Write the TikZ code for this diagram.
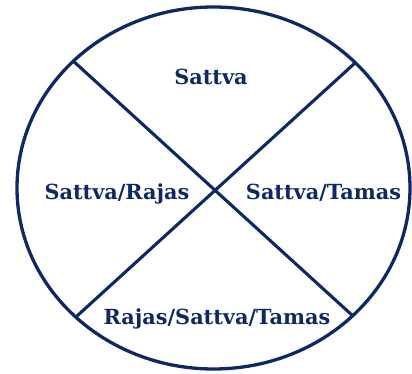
\documentclass[tikz,border=0pt]{standalone}
\usepackage{fontspec}
\setmainfont{DejaVu Serif}
\usetikzlibrary{calc}
\definecolor{gunanavy}{RGB}{14,40,100}

\begin{document}
\begin{tikzpicture}[x=1pt,y=1pt,
  guna/.style={anchor=base,text=gunanavy,font=\fontsize{20.8}{24}\selectfont\bfseries,inner sep=0pt}]
\useasboundingbox (0,0) rectangle (412,374);
\coordinate (c) at (213.5,186);
\draw[gunanavy,line width=3.3pt] (c) ellipse [x radius=196.5,y radius=181];
\coordinate (ul) at ($(c)+(135.5:196.5 and 181)$);
\coordinate (ur) at ($(c)+(43.8:196.5 and 181)$);
\coordinate (ll) at ($(c)+(225.5:196.5 and 181)$);
\coordinate (lr) at ($(c)+(-44.9:196.5 and 181)$);
\draw[gunanavy,line width=3.1pt] (ul) -- (lr);
\draw[gunanavy,line width=3.1pt] (ur) -- (ll);
\node[guna] (top) at (211,289) {Sattva};
\node[guna] (left) at (117,174) {Sattva/Rajas};
\node[guna] (right) at (323.5,174) {Sattva/Tamas};
\node[guna] (bottom) at (217,49.5) {Rajas/Sattva/Tamas};
\end{tikzpicture}
\end{document}
